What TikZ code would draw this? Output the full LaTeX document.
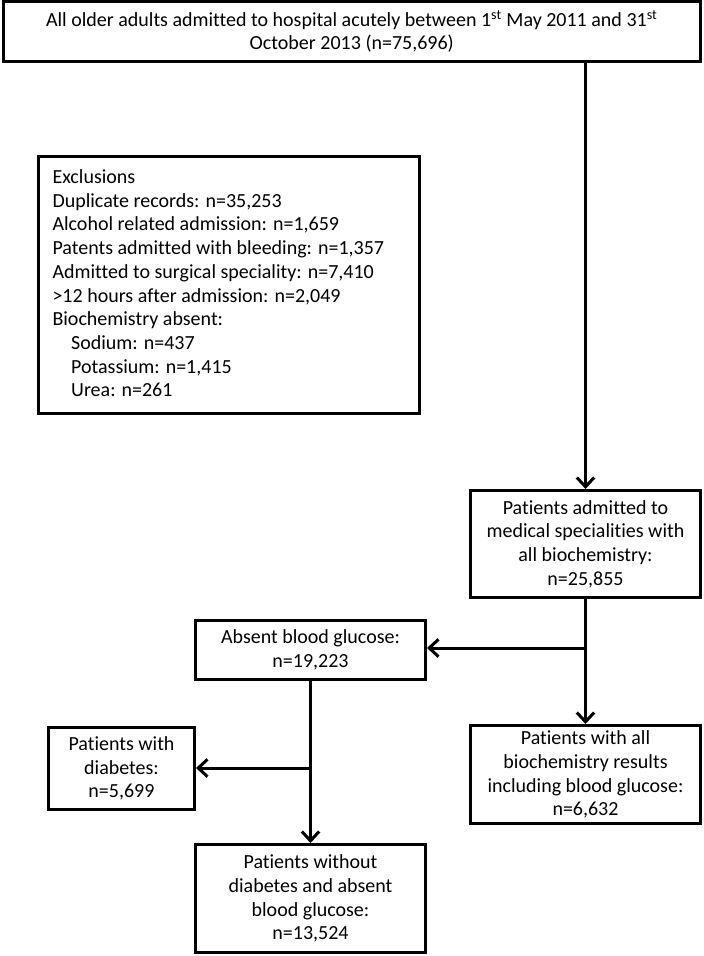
\documentclass[tikz,border=0pt]{standalone}
\usepackage{fontspec}
\setmainfont{Carlito}[Ligatures=NoCommon]
\usetikzlibrary{arrows.meta}

\tikzset{every picture/.style={line width=2.25pt}}
\tikzset{
  flowbox/.style={draw, rectangle, align=center, inner sep=0pt,
    font=\fontsize{15}{17.8}\selectfont},
  flowarrow/.style={-{Straight Barb[length=7pt,width=13pt,line width=2.25pt]}}
}

\begin{document}
\begin{tikzpicture}[x=0.75pt,y=0.75pt,yscale=-1,xscale=1]
        \useasboundingbox (0,0) rectangle (703,956);

        %Shape: Rectangle, cohort
        \node [flowbox, minimum width=522.4pt, minimum height=45pt] (cohort) at (351.75,31.5)
          {All older adults admitted to hospital acutely between 1\textsuperscript{st} May 2011 and 31\textsuperscript{st}\\October 2013 (n=75,696)};
        %Shape: Rectangle, exclusions
        \node [flowbox, minimum width=285.75pt, minimum height=192.75pt] (excl) at (229,285) {};
        % Text Node
        \node [anchor=north west, inner sep=0pt, align=left, font=\fontsize{15}{17.8}\selectfont] (excltext) at (51,168)
          {Exclusions\\
           Duplicate records: n=35,253\\
           Alcohol related admission: n=1,659\\
           Patents admitted with bleeding: n=1,357\\
           Admitted to surgical speciality: n=7,410\\
           >12 hours after admission: n=2,049\\
           Biochemistry absent:\\
           \hspace*{14pt}Sodium: n=437\\
           \hspace*{14pt}Potassium: n=1,415\\
           \hspace*{14pt}Urea: n=261};
        %Shape: Rectangle, medical
        \node [flowbox, minimum width=172.5pt, minimum height=80.25pt] (medical) at (585.5,544)
          {Patients admitted to\\medical specialities with\\all biochemistry:\\n=25,855};
        %Shape: Rectangle, absent
        \node [flowbox, minimum width=172.5pt, minimum height=44.25pt] (absent) at (310.5,650)
          {Absent blood glucose:\\n=19,223};
        %Shape: Rectangle, all biochemistry
        \node [flowbox, minimum width=172.5pt, minimum height=73.5pt] (allbio) at (585.5,774.5)
          {Patients with all\\biochemistry results\\including blood glucose:\\n=6,632};
        %Shape: Rectangle, diabetes
        \node [flowbox, minimum width=109.5pt, minimum height=61.5pt] (diab) at (121.5,768.5)
          {Patients with\\diabetes:\\n=5,699};
        %Shape: Rectangle, without diabetes
        \node [flowbox, minimum width=172.5pt, minimum height=81pt] (nodiab) at (310.5,898.5)
          {Patients without\\diabetes and absent\\blood glucose:\\n=13,524};

        % split points
        \coordinate (trunk) at (585.5,61.5);
        \coordinate (split1) at (585.5,648);
        \coordinate (split2) at (310.5,768);

        %Straight Lines
        \draw [flowarrow] (trunk) -- (medical.north);
        \draw (medical.south) -- (split1);
        \draw [flowarrow] (split1) -- (absent.east |- split1);
        \draw [flowarrow] (split1) -- (allbio.north);
        \draw (absent.south) -- (split2);
        \draw [flowarrow] (split2) -- (diab.east |- split2);
        \draw [flowarrow] (split2) -- (nodiab.north);

    \end{tikzpicture}
\end{document}
